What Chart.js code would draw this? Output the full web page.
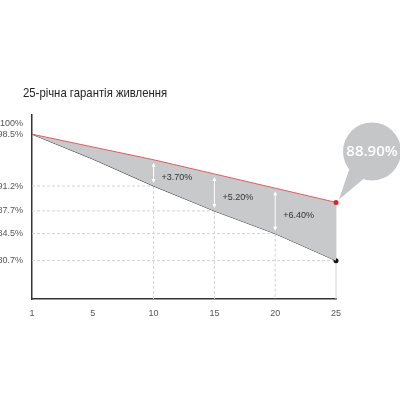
<!DOCTYPE html>
<html>
<head>
<meta charset="utf-8">
<script src="https://cdn.jsdelivr.net/npm/chart.js@4"></script>
<style>
  body { margin: 0; background: #fff; }
  #wrap { position: relative; width: 400px; height: 400px; }
  #title { position: absolute; left: 23px; top: 85px; font: 13.5px "Liberation Sans", Arial, sans-serif; color: #222;
           transform: scaleX(0.84); transform-origin: left top; white-space: nowrap; }
</style>
</head>
<body>
<div id="wrap">
  <div id="title">25-річна гарантія живлення</div>
  <canvas id="powerChart"></canvas>
</div>
<script>
// DATA
const years = ['1', '5', '10', '15', '20', '25'];
const guaranteed = [98.5, 95.0, 91.2, 87.7, 84.5, 80.7];
const actual = [98.5, 96.7, 94.9, 92.9, 90.9, 88.9];
const gains = [null, null, 3.7, 5.2, 6.4, null];
const yTicks = [100, 98.5, 91.2, 87.7, 84.5, 80.7];
const finalLabel = '88.90%';

const FONT = '"Liberation Sans", Arial, sans-serif';

// drop lines under the marks, arrows and bubble above
const guides = {
    id: 'guides',
    beforeDatasetsDraw(chart) {
        const { ctx, chartArea: area } = chart;
        const x = chart.scales.x, y = chart.scales.y;
        ctx.save();
        ctx.strokeStyle = '#d2d2d2';
        ctx.lineWidth = 1;
        for (let i = 2; i < years.length; i++) {
            const px = x.getPixelForValue(i);
            const py = y.getPixelForValue(guaranteed[i]);
            ctx.setLineDash([3, 2]);
            ctx.beginPath();
            ctx.moveTo(area.left, py);
            ctx.lineTo(px, py);
            ctx.stroke();
            if (i === years.length - 1) ctx.setLineDash([]);
            ctx.beginPath();
            ctx.moveTo(px, i === years.length - 1 ? y.getPixelForValue(actual[i]) : py);
            ctx.lineTo(px, area.bottom);
            ctx.stroke();
        }
        ctx.restore();
    },
    afterDatasetsDraw(chart) {
        const { ctx } = chart;
        const x = chart.scales.x, y = chart.scales.y;
        ctx.save();
        gains.forEach((g, i) => {
            if (g === null) return;
            const px = x.getPixelForValue(i);
            const top = y.getPixelForValue(actual[i]) + 3;
            const bot = y.getPixelForValue(guaranteed[i]) - 3;
            ctx.strokeStyle = '#fff';
            ctx.fillStyle = '#fff';
            ctx.lineWidth = 1;
            ctx.beginPath();
            ctx.moveTo(px, top + 2);
            ctx.lineTo(px, bot - 2);
            ctx.stroke();
            ctx.beginPath();
            ctx.moveTo(px, top); ctx.lineTo(px - 2, top + 4); ctx.lineTo(px + 2, top + 4);
            ctx.closePath(); ctx.fill();
            ctx.beginPath();
            ctx.moveTo(px, bot); ctx.lineTo(px - 2, bot - 4); ctx.lineTo(px + 2, bot - 4);
            ctx.closePath(); ctx.fill();
            ctx.fillStyle = '#333';
            ctx.font = '9px ' + FONT;
            ctx.textAlign = 'left';
            ctx.textBaseline = 'middle';
            ctx.fillText('+' + g.toFixed(2) + '%', px + 8, (top + bot) / 2 + 5);
        });

        const last = years.length - 1;
        const tx = x.getPixelForValue(last) + 3;
        const ty = y.getPixelForValue(actual[last]) - 3;
        const cx = tx + 33, cy = ty - 48, r = 29;
        const ang = Math.atan2(ty - cy, tx - cx);
        ctx.fillStyle = '#c5c6c8';
        ctx.beginPath();
        ctx.arc(cx, cy, r, 0, Math.PI * 2);
        ctx.fill();
        ctx.beginPath();
        ctx.moveTo(cx + r * Math.cos(ang - 0.3), cy + r * Math.sin(ang - 0.3));
        ctx.lineTo(tx, ty);
        ctx.lineTo(cx + r * Math.cos(ang + 0.3), cy + r * Math.sin(ang + 0.3));
        ctx.closePath();
        ctx.fill();
        ctx.fillStyle = '#fff';
        ctx.font = '600 15px "Open Sans", ' + FONT;
        ctx.textAlign = 'center';
        ctx.textBaseline = 'middle';
        ctx.fillText(finalLabel, cx, cy);
        ctx.restore();
    }
};

const ctx = document.getElementById('powerChart').getContext('2d');
const powerChart = new Chart(ctx, {
    type: 'line',
    data: {
        labels: years,
        datasets: [{
            data: actual,
            borderColor: '#e35a5e',
            borderWidth: 1,
            backgroundColor: '#c8c9cb',
            fill: '+1',
            pointRadius: actual.map((v, i) => i === actual.length - 1 ? 2.5 : 0),
            pointBackgroundColor: '#e0232a',
            pointBorderWidth: 0,
            clip: false,
            tension: 0
        }, {
            data: guaranteed,
            borderColor: '#2a2a2a',
            borderWidth: 1,
            fill: false,
            pointRadius: guaranteed.map((v, i) => i === guaranteed.length - 1 ? 2.5 : 0),
            pointBackgroundColor: '#111',
            pointBorderWidth: 0,
            clip: false,
            tension: 0
        }]
    },
    options: {
        responsive: true,
        maintainAspectRatio: false,
        animation: false,
        layout: { padding: { top: 115, right: 64, bottom: 71, left: 0 } },
        scales: {
            x: {
                offset: false,
                grid: { display: false, drawTicks: false },
                border: { display: true, color: '#333', width: 1.5 },
                ticks: { color: '#555', font: { size: 9, family: FONT }, padding: 9, maxRotation: 0 },
                afterFit(scale) { scale.height = 30; }
            },
            y: {
                min: 75.3,
                max: 101.2,
                grid: { display: false, drawTicks: false },
                border: { display: true, color: '#333', width: 1.5 },
                afterBuildTicks(scale) { scale.ticks = yTicks.map(v => ({ value: v })); },
                ticks: {
                    color: '#555',
                    font: { size: 9, family: FONT },
                    padding: 9,
                    callback: v => v + '%'
                },
                afterFit(scale) { scale.width = 32; }
            }
        },
        plugins: { legend: { display: false }, tooltip: { enabled: false } }
    },
    plugins: [guides]
});
</script>
</body>
</html>
